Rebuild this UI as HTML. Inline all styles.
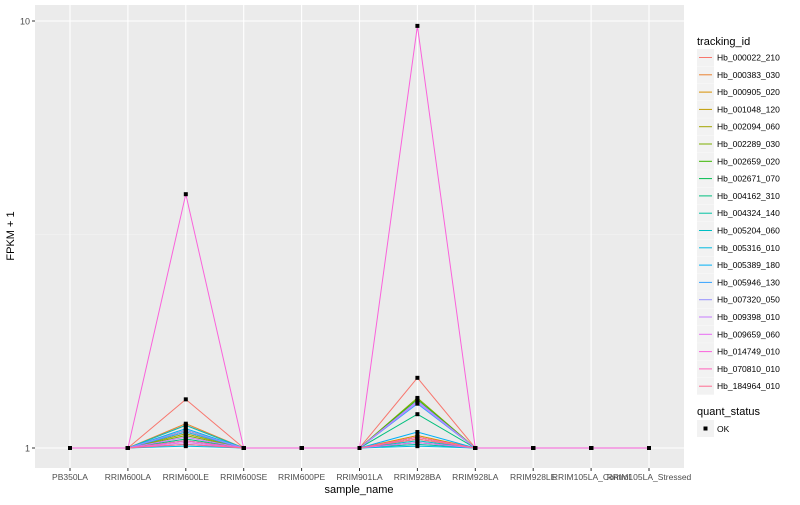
<!DOCTYPE html>
<html><head><meta charset="utf-8"><style>
body{margin:0;background:#fff;font-family:"Liberation Sans",sans-serif;}
svg text{font-family:"Liberation Sans",sans-serif;}
</style></head><body>
<svg id="c" width="800" height="500" xmlns="http://www.w3.org/2000/svg">
<rect x="35" y="5" width="649" height="463" fill="#EBEBEB"/>
<g id="grid"></g><g id="lines"></g><g id="pts"></g><g id="axes"></g><g id="legend"></g>
<text x="14" y="236" transform="rotate(-90 14 236)" text-anchor="middle" font-size="11" fill="#000">FPKM + 1</text>
<text x="359" y="493" text-anchor="middle" font-size="11" fill="#000">sample_name</text>
</svg>
<script>
const categories=["PB350LA","RRIM600LA","RRIM600LE","RRIM600SE","RRIM600PE","RRIM901LA","RRIM928BA","RRIM928LA","RRIM928LE","RRIM105LA_Control","RRIM105LA_Stressed"];
const seriesIds=["Hb_000022_210","Hb_000383_030","Hb_000905_020","Hb_001048_120","Hb_002094_060","Hb_002289_030","Hb_002659_020","Hb_002671_070","Hb_004162_310","Hb_004324_140","Hb_005204_060","Hb_005316_010","Hb_005389_180","Hb_005946_130","Hb_007320_050","Hb_009398_010","Hb_009659_060","Hb_014749_010","Hb_070810_010","Hb_184964_010"];
const colors=["#F8766D","#EA8331","#D89000","#C09B00","#A3A500","#7CAE00","#39B600","#00BB4E","#00BF7D","#00C1A3","#00BFC4","#00BAE0","#00B0F6","#35A2FF","#9590FF","#C77CFF","#E76BF3","#FA62DB","#FF62BC","#FF6C91"];
const valuesLE=[1.30,1.14,1.13,1.10,1.08,1.07,1.09,1.04,1.05,1.02,1.13,1.01,1.11,1.09,1.10,1.06,1.03,3.93,1.04,1.02];
const valuesBA=[1.46,1.06,1.07,1.06,1.05,1.31,1.30,1.03,1.20,1.02,1.04,1.01,1.09,1.27,1.29,1.28,1.03,9.74,1.06,1.05];
const yTicks=[1,10];
const NS="http://www.w3.org/2000/svg";
function X(i){return 70+i*57.9;}
function Y(v){return 448-Math.log10(v)*427;}
function mk(t,a,p){const e=document.createElementNS(NS,t);for(const k in a)e.setAttribute(k,a[k]);document.getElementById(p).appendChild(e);return e;}
// grid
let g=mk("line",{x1:35,x2:684,y1:Y(Math.sqrt(10)),y2:Y(Math.sqrt(10)),stroke:"#F5F5F5","stroke-width":0.6},"grid");


yTicks.forEach(t=>{
 let l=mk("line",{x1:35,x2:684,y1:Y(t),y2:Y(t),stroke:"#fff","stroke-width":1.1},"grid");
 
 
 let tk=mk("line",{x1:32,x2:35,y1:Y(t),y2:Y(t),stroke:"#333"},"axes");
 
 
 let tx=mk("text",{x:30,y:Y(t)+3.5,"text-anchor":"end","font-size":9,fill:"#4D4D4D"},"axes");
 tx.textContent=t;
 
 
});
categories.forEach((c,i)=>{
 let l=mk("line",{x1:X(i),x2:X(i),y1:5,y2:468,stroke:"#fff","stroke-width":1.1},"grid");
 
 
 let tk=mk("line",{x1:X(i),x2:X(i),y1:468,y2:471,stroke:"#333"},"axes");
 
 
 let tx=mk("text",{x:X(i),y:480,"text-anchor":"middle","font-size":8.5,fill:"#4D4D4D"},"axes");
 tx.textContent=c;
 
 
});
// series
const order=[...seriesIds.keys()].filter(i=>i!==17).concat([17]);
order.forEach(s=>{
 const vals=categories.map((c,i)=>i===2?valuesLE[s]:(i===6?valuesBA[s]:1));
 const p=mk("polyline",{points:vals.map((v,i)=>X(i)+","+Y(v)).join(" "),fill:"none",stroke:colors[s],"stroke-width":1},"lines");
 
 
 vals.forEach((v,i)=>{
  const r=mk("rect",{x:X(i)-2,y:Y(v)-2,width:4,height:4,fill:"#000"},"pts");
  
  
 });
});
// legend
let lt=mk("text",{x:697,y:45,"font-size":11,fill:"#000"},"legend");
lt.textContent="tracking_id";


seriesIds.forEach((id,i)=>{
 const cy=57+i*17.3;
 const b=mk("rect",{x:697,y:cy-8,width:17,height:17,fill:"#F2F2F2"},"legend");
 
 
 const l=mk("line",{x1:699,x2:712,y1:cy+0.5,y2:cy+0.5,stroke:colors[i],"stroke-width":1},"legend");
 
 
 const t=mk("text",{x:717,y:cy+3.5,"font-size":8.5,fill:"#000"},"legend");
 t.textContent=id;
 
 
});
let qt=mk("text",{x:697,y:415,"font-size":11,fill:"#000"},"legend");
qt.textContent="quant_status";


let qb=mk("rect",{x:697,y:420,width:17,height:17,fill:"#F2F2F2"},"legend");


let qp=mk("rect",{x:703.5,y:426.5,width:4,height:4,fill:"#000"},"legend");


let qx=mk("text",{x:717,y:432,"font-size":8.5,fill:"#000"},"legend");
qx.textContent="OK";


</script>
</body></html>
